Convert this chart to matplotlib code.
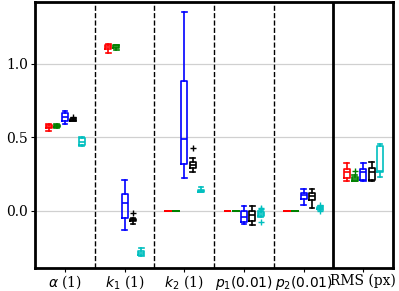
import numpy as np
import matplotlib.pyplot as plt

plt.rcParams['font.family'] = 'DejaVu Serif'
plt.rcParams['mathtext.fontset'] = 'dejavusans'
plt.rcParams['font.size'] = 10

# parameter groups on the x axis
params = [r'$\alpha$ (1)', r'$k_1$ (1)', r'$k_2$ (1)', r'$p_1(0.01)$', r'$p_2(0.01)$', 'RMS (px)']

# box statistics per group: (whislo, q1, med, q3, whishi)
red_stats = [(0.545, 0.562, 0.570, 0.580, 0.590),
             (1.075, 1.100, 1.112, 1.125, 1.135),
             (0.0, 0.0, 0.0, 0.0, 0.0),
             (0.0, 0.0, 0.0, 0.0, 0.0),
             (0.0, 0.0, 0.0, 0.0, 0.0),
             (0.205, 0.220, 0.260, 0.285, 0.325)]
green_stats = [(0.562, 0.568, 0.575, 0.582, 0.588),
               (1.092, 1.105, 1.115, 1.125, 1.130),
               (0.0, 0.0, 0.0, 0.0, 0.0),
               (0.0, 0.0, 0.0, 0.0, 0.0),
               (0.0, 0.0, 0.0, 0.0, 0.0),
               (0.200, 0.205, 0.215, 0.230, 0.245)]
blue_stats = [(0.590, 0.610, 0.640, 0.665, 0.680),
              (-0.130, -0.050, 0.050, 0.115, 0.210),
              (0.220, 0.320, 0.490, 0.880, 1.350),
              (-0.090, -0.080, -0.040, -0.005, 0.030),
              (0.038, 0.080, 0.105, 0.122, 0.145),
              (0.205, 0.210, 0.260, 0.285, 0.325)]
black_stats = [(0.608, 0.612, 0.618, 0.622, 0.628),
               (-0.090, -0.070, -0.063, -0.055, -0.052),
               (0.265, 0.290, 0.310, 0.330, 0.360),
               (-0.095, -0.070, -0.030, 0.000, 0.030),
               (0.015, 0.075, 0.100, 0.122, 0.145),
               (0.205, 0.210, 0.260, 0.290, 0.330)]
cyan_stats = [(0.440, 0.450, 0.470, 0.495, 0.500),
              (-0.305, -0.300, -0.285, -0.275, -0.255),
              (0.125, 0.128, 0.135, 0.142, 0.160),
              (-0.040, -0.035, -0.020, -0.010, 0.000),
              (0.005, 0.010, 0.020, 0.025, 0.030),
              (0.230, 0.265, 0.270, 0.440, 0.455)]

# outliers per group
red_fliers = [[], [], [], [], [], []]
green_fliers = [[], [], [], [], [], [0.27]]
blue_fliers = [[], [], [], [], [], []]
black_fliers = [[0.64], [-0.015], [0.43], [], [], []]
cyan_fliers = [[], [], [], [0.02, 0.012, -0.08], [0.04, -0.005], []]

series = [(red_stats, red_fliers, 'red'),
          (green_stats, green_fliers, 'green'),
          (blue_stats, blue_fliers, 'blue'),
          (black_stats, black_fliers, 'black'),
          (cyan_stats, cyan_fliers, 'c')]
offsets = [-0.275, -0.14, 0.0, 0.14, 0.28]

fig = plt.figure(figsize=(3.99, 2.91), dpi=100)
ax = fig.add_axes([0.088, 0.079, 0.897, 0.914])

base = np.arange(1, len(params) + 1)
for (st, fl, col), off in zip(series, offsets):
    bstats = []
    for (lo, q1, med, q3, hi), f in zip(st, fl):
        bstats.append(dict(whislo=lo, q1=q1, med=med, q3=q3, whishi=hi, fliers=f))
    ax.bxp(bstats, positions=base + off, widths=0.1, capwidths=0.08,
           manage_ticks=False,
           boxprops=dict(color=col, linewidth=1.2),
           whiskerprops=dict(color=col, linewidth=1.2),
           capprops=dict(color=col, linewidth=1.2),
           medianprops=dict(color=col, linewidth=1.2),
           flierprops=dict(marker='+', markeredgecolor=col, markersize=5))

# separators between parameters
for x in base[:-2] + 0.5:
    ax.axvline(x, color='black', linestyle='--', linewidth=1)
ax.axvline(base[-2] + 0.5, color='black', linewidth=2)

ax.set_xlim(0.5, 6.5)
ax.set_ylim(-0.39, 1.42)
ax.set_yticks([0.0, 0.5, 1.0])
ax.set_xticks(base)
ax.set_xticklabels(params)
ax.tick_params(axis='x', length=3, pad=1)
ax.tick_params(axis='y', length=3, pad=2)
ax.yaxis.grid(True, color='#d0d0d0', linewidth=0.9)
ax.set_axisbelow(True)
for s in ax.spines.values():
    s.set_linewidth(2)

fig.savefig('out.png', dpi=100)
